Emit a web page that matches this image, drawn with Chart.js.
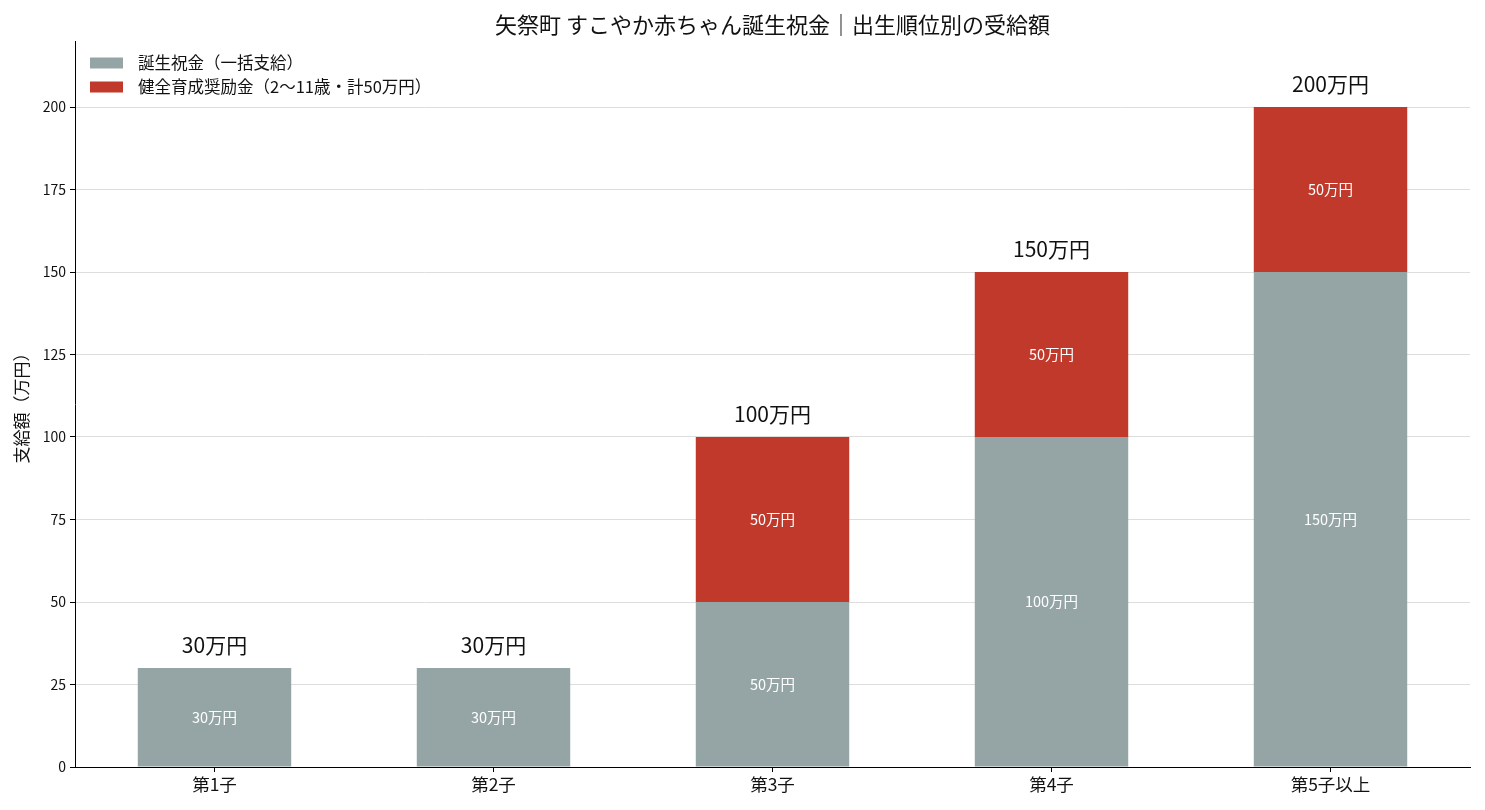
<!DOCTYPE html>
<html lang="ja">
<head>
<meta charset="utf-8">
<title>矢祭町 すこやか赤ちゃん誕生祝金</title>
<script src="https://cdn.jsdelivr.net/npm/chart.js@4/dist/chart.umd.min.js"></script>
<style>
  html, body { margin: 0; padding: 0; background: #fff; }
  #wrap { width: 1485px; height: 810px; position: relative; }
</style>
</head>
<body>
<div id="wrap"><canvas id="chart"></canvas></div>
<script>
// Data (unit: 万円)
const categories = ['第1子', '第2子', '第3子', '第4子', '第5子以上'];
const birthGift = [30, 30, 50, 100, 150];
const healthGrant = [0, 0, 50, 50, 50];
const seriesNames = ['誕生祝金（一括支給）', '健全育成奨励金（2〜11歳・計50万円）'];
const titleText = '矢祭町 すこやか赤ちゃん誕生祝金｜出生順位別の受給額';
const yTitle = '支給額（万円）';

const FONT = '"Noto Sans CJK JP", "Noto Sans", sans-serif';
const colors = { gift: '#95a5a6', grant: '#c0392b' };

// value labels, legend and title drawn on the canvas
const decorations = {
  id: 'decorations',
  afterDatasetsDraw(chart) {
    const ctx = chart.ctx;
    ctx.save();
    ctx.textAlign = 'center';
    ctx.textBaseline = 'middle';

    // labels inside each segment
    chart.data.datasets.forEach((ds, di) => {
      const meta = chart.getDatasetMeta(di);
      meta.data.forEach((bar, i) => {
        const v = ds.data[i];
        if (!v) return;
        ctx.font = '14.5px ' + FONT;
        ctx.fillStyle = '#ffffff';
        ctx.fillText(v + '万円', bar.x, (bar.y + bar.base) / 2);
      });
    });

    // totals above bars
    const yScale = chart.scales.y;
    const xScale = chart.scales.x;
    categories.forEach((c, i) => {
      const total = birthGift[i] + healthGrant[i];
      ctx.font = '21px ' + FONT;
      ctx.fillStyle = '#111';
      ctx.fillText(total + '万円', xScale.getPixelForValue(i), yScale.getPixelForValue(total) - 23);
    });

    // legend (inside top-left)
    const left = chart.chartArea.left;
    ctx.textAlign = 'left';
    ctx.font = '16.5px ' + FONT;
    chart.data.datasets.forEach((ds, di) => {
      const cy = 63 + di * 24;
      ctx.fillStyle = ds.backgroundColor;
      ctx.fillRect(left + 15, cy - 5.5, 33, 11);
      ctx.fillStyle = '#111';
      ctx.fillText(ds.label, left + 63, cy);
    });

    // title
    ctx.textAlign = 'center';
    ctx.font = '22px ' + FONT;
    ctx.fillStyle = '#111';
    ctx.fillText(titleText, (chart.chartArea.left + chart.chartArea.right) / 2, 25);
    ctx.restore();
  }
};

new Chart(document.getElementById('chart'), {
  type: 'bar',
  data: {
    labels: categories,
    datasets: [
      { label: seriesNames[0], data: birthGift, backgroundColor: colors.gift,
        categoryPercentage: 1, barPercentage: 0.55 },
      { label: seriesNames[1], data: healthGrant, backgroundColor: colors.grant,
        categoryPercentage: 1, barPercentage: 0.55 }
    ]
  },
  options: {
    responsive: true,
    maintainAspectRatio: false,
    animation: false,
    layout: { padding: { top: 41, right: 15, bottom: 0, left: 11 } },
    plugins: {
      legend: { display: false },
      title: { display: false },
      tooltip: { enabled: false }
    },
    scales: {
      x: {
        stacked: true,
        offset: true,
        grid: { drawOnChartArea: false, offset: false, tickLength: 5, tickColor: '#000' },
        border: { color: '#000', width: 1 },
        ticks: { font: { family: FONT, size: 17.5 }, color: '#111', padding: 2 },
        afterFit(scale) { scale.height = 43; }
      },
      y: {
        stacked: true,
        min: 0,
        max: 220,
        grid: { color: '#dddddd', tickLength: 5, tickColor: '#000' },
        border: { color: '#000', width: 1 },
        ticks: { stepSize: 25, font: { family: FONT, size: 14 }, color: '#111', padding: 4 },
        title: { display: true, text: yTitle, font: { family: FONT, size: 17 }, color: '#111', padding: 0 },
        afterBuildTicks(scale) { scale.ticks = scale.ticks.filter(t => t.value <= 200); },
        afterFit(scale) { scale.width = 64; }
      }
    }
  },
  plugins: [decorations]
});
</script>
</body>
</html>
